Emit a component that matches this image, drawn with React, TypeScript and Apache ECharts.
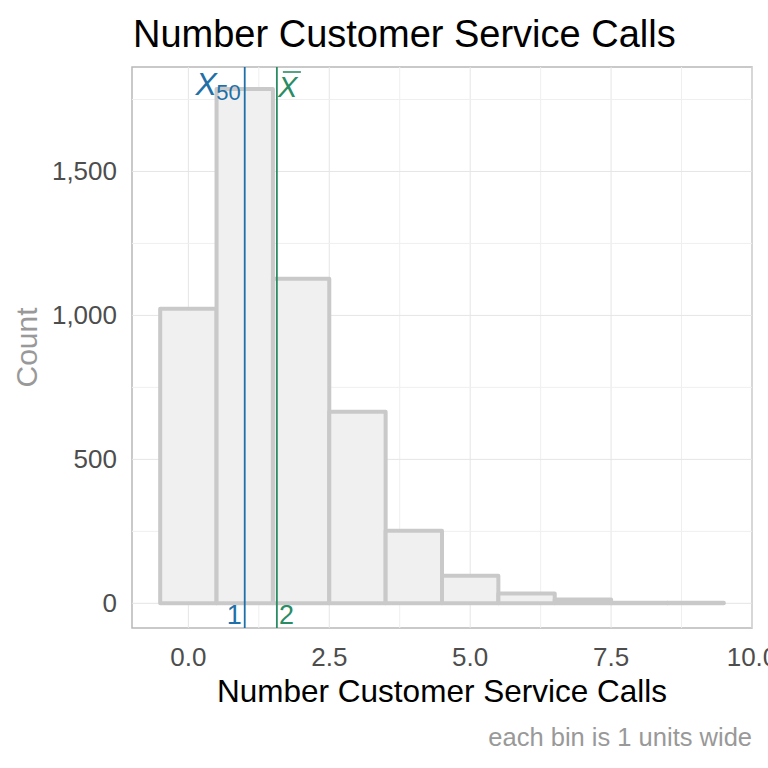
import React, { useEffect, useRef } from "react";
import * as echarts from "echarts";

const binCenters = [0, 1, 2, 3, 4, 5, 6, 7, 8, 9];
const counts = [1023, 1786, 1127, 665, 252, 96, 34, 13, 2, 2];
const binWidth = 1;
const xTicks = [0, 2.5, 5, 7.5, 10];
const xMinor = [1.25, 3.75, 6.25, 8.75];
const yTicks = [0, 500, 1000, 1500];
const yMinor = [250, 750, 1250, 1750];
const medianValue = 1;
const medianLabel = "1";
const meanLabel = "2";

const FONT = "'Liberation Sans', Arial, sans-serif";
const BLUE = "#1f70a8";
const GREEN = "#2a8c64";

export default function App() {
  const ref = useRef<HTMLDivElement>(null);
  useEffect(() => {
    if (!ref.current) return;
    const chart = echarts.init(ref.current, null, { renderer: "svg" });
    const total = counts.reduce((a, b) => a + b, 0);
    const meanValue = binCenters.reduce((s, c, i) => s + c * counts[i], 0) / total;
    const maxCount = Math.max(...counts);
    const xMin = binCenters[0] - binWidth / 2 - 0.05 * (binCenters.length * binWidth);
    const xMax = binCenters[binCenters.length - 1] + binWidth / 2 + 0.05 * (binCenters.length * binWidth);

    const vGrid = [...xTicks.map((v) => [v, 0, 1]), ...xMinor.map((v) => [v, 0, 0])];
    const hGrid = [...yTicks.map((v) => [0, v, 1]), ...yMinor.map((v) => [0, v, 0])];

    const option: any = {
      animation: false,
      title: {
        text: "Number Customer Service Calls",
        left: 128,
        top: 10,
        textStyle: { fontFamily: FONT, fontSize: 38, fontWeight: "normal", color: "#000" },
      },
      graphic: [
        {
          type: "text",
          right: 16,
          top: 724,
          style: { text: "each bin is 1 units wide", fontFamily: FONT, fontSize: 25.5, fill: "#999999" },
        },
      ],
      grid: {
        left: 132,
        right: 16,
        top: 67,
        bottom: 140,
        show: true,
        borderColor: "#b8b8b8",
        borderWidth: 1.5,
        backgroundColor: "transparent",
        containLabel: false,
        outerBoundsMode: "none",
      },
      xAxis: {
        type: "value",
        min: xMin,
        max: xMax,
        axisLine: { show: false },
        axisTick: { show: false },
        splitLine: { show: false },
        axisLabel: {
          customValues: xTicks,
          formatter: (v: number) => v.toFixed(1),
          fontFamily: FONT,
          fontSize: 26,
          color: "#4d4d4d",
          margin: 16,
          showMaxLabel: true,
          hideOverlap: false,
        },
        name: "Number Customer Service Calls",
        nameLocation: "middle",
        nameGap: 46,
        nameTextStyle: { fontFamily: FONT, fontSize: 31.5, color: "#000" },
      },
      yAxis: {
        type: "value",
        min: -0.048 * maxCount,
        max: maxCount * 1.043,
        axisLine: { show: false },
        axisTick: { show: false },
        splitLine: { show: false },
        axisLabel: {
          customValues: yTicks,
          formatter: (v: number) => v.toLocaleString("en-US"),
          fontFamily: FONT,
          fontSize: 26,
          color: "#4d4d4d",
          margin: 15,
        },
        name: "Count",
        nameLocation: "middle",
        nameGap: 88,
        nameTextStyle: { fontFamily: FONT, fontSize: 30, color: "#999999" },
      },
      series: [
        {
          type: "custom",
          z: 1,
          silent: true,
          data: vGrid,
          renderItem: (params: any, api: any) => {
            const cs = params.coordSys;
            const px = api.coord([api.value(0), 0])[0];
            const major = api.value(2) === 1;
            return {
              type: "line",
              shape: { x1: px, y1: cs.y, x2: px, y2: cs.y + cs.height },
              style: { stroke: major ? "#e5e5e5" : "#efefef", lineWidth: 1 },
            };
          },
        },
        {
          type: "custom",
          z: 1,
          silent: true,
          data: hGrid,
          renderItem: (params: any, api: any) => {
            const cs = params.coordSys;
            const py = api.coord([0, api.value(1)])[1];
            const major = api.value(2) === 1;
            return {
              type: "line",
              shape: { x1: cs.x, y1: py, x2: cs.x + cs.width, y2: py },
              style: { stroke: major ? "#e5e5e5" : "#efefef", lineWidth: 1 },
            };
          },
        },
        {
          type: "custom",
          z: 2,
          data: binCenters.map((c, i) => [c, counts[i]]),
          renderItem: (params: any, api: any) => {
            const c = api.value(0);
            const v = api.value(1);
            const p0 = api.coord([c - binWidth / 2, 0]);
            const p1 = api.coord([c + binWidth / 2, v]);
            return {
              type: "rect",
              shape: { x: p0[0], y: p1[1], width: p1[0] - p0[0], height: p0[1] - p1[1] },
              style: { fill: "#f0f0f0", stroke: "#c9c9c9", lineWidth: 4, lineJoin: "round" },
            };
          },
        },
        {
          type: "custom",
          z: 3,
          data: [[medianValue, 0]],
          renderItem: (params: any, api: any) => {
            const cs = params.coordSys;
            const px = api.coord([api.value(0), 0])[0];
            return {
              type: "group",
              children: [
                {
                  type: "line",
                  shape: { x1: px, y1: cs.y, x2: px, y2: cs.y + cs.height },
                  style: { stroke: BLUE, lineWidth: 1.8 },
                },
                {
                  type: "text",
                  style: { text: "50", x: px - 4, y: cs.y + 25, align: "right", verticalAlign: "middle", fontFamily: FONT, fontSize: 22, fill: BLUE },
                },
                {
                  type: "text",
                  style: { text: "X", x: px - 28, y: cs.y + 17, align: "right", verticalAlign: "middle", fontFamily: FONT, fontSize: 32, fontStyle: "italic", fill: BLUE },
                },
                {
                  type: "text",
                  style: { text: medianLabel, x: px - 3, y: cs.y + cs.height - 13, align: "right", verticalAlign: "middle", fontFamily: FONT, fontSize: 27, fill: BLUE },
                },
              ],
            };
          },
        },
        {
          type: "custom",
          z: 3,
          data: [[meanValue, 0]],
          renderItem: (params: any, api: any) => {
            const cs = params.coordSys;
            const px = api.coord([api.value(0), 0])[0];
            return {
              type: "group",
              children: [
                {
                  type: "line",
                  shape: { x1: px, y1: cs.y, x2: px, y2: cs.y + cs.height },
                  style: { stroke: GREEN, lineWidth: 1.8 },
                },
                {
                  type: "text",
                  style: { text: "X", x: px + 1, y: cs.y + 20, align: "left", verticalAlign: "middle", fontFamily: FONT, fontSize: 29, fontStyle: "italic", fill: GREEN },
                },
                {
                  type: "line",
                  shape: { x1: px + 6, y1: cs.y + 5, x2: px + 24, y2: cs.y + 5 },
                  style: { stroke: GREEN, lineWidth: 1.6 },
                },
                {
                  type: "text",
                  style: { text: meanLabel, x: px + 2, y: cs.y + cs.height - 13, align: "left", verticalAlign: "middle", fontFamily: FONT, fontSize: 27, fill: GREEN },
                },
              ],
            };
          },
        },
      ],
    };
    chart.setOption(option);
    return () => chart.dispose();
  }, []);
  return <div ref={ref} style={{ width: 768, height: 768, position: "absolute", left: 0, top: 0 }} />;
}
